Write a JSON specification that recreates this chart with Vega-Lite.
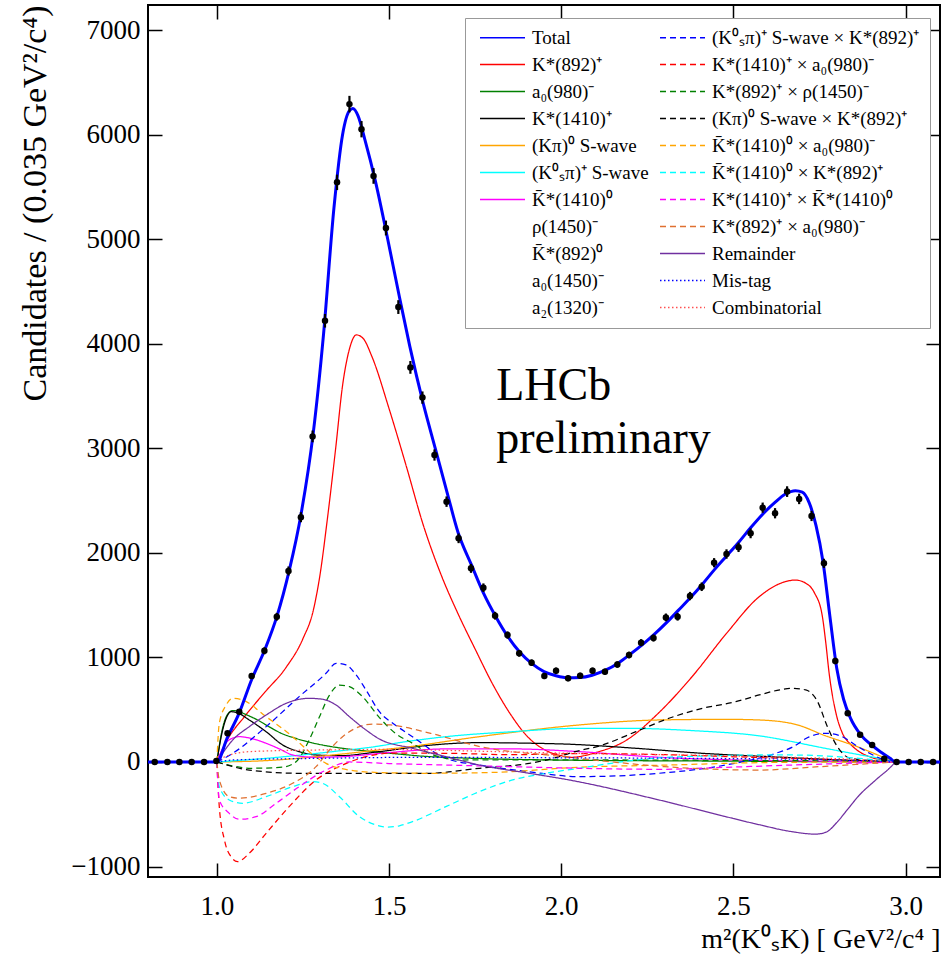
{
  "$schema": "https://vega.github.io/schema/vega-lite/v6.json",
  "width": 792,
  "height": 872,
  "autosize": {"type": "none"},
  "padding": {"left": 148, "top": 5, "right": 8, "bottom": 88},
  "background": "white",
  "config": {
    "view": {"stroke": "black", "strokeWidth": 2},
    "font": "Liberation Serif",
    "axis": {"grid": false, "domain": false, "tickColor": "black", "tickWidth": 1.5, "labelColor": "black", "titleColor": "black", "labelFont": "Liberation Serif", "titleFont": "Liberation Serif", "titleFontWeight": "normal"}
  },
  "datasets": {
    "lines": [
      {"c":"T","x":0.8,"y":0},{"c":"T","x":0.999,"y":0},{"c":"T","x":1.0,"y":0},{"c":"T","x":1.03,"y":230},{"c":"T","x":1.065,"y":470},{"c":"T","x":1.1,"y":780},{"c":"T","x":1.14,"y":1080},{"c":"T","x":1.175,"y":1400},{"c":"T","x":1.21,"y":1830},{"c":"T","x":1.245,"y":2380},{"c":"T","x":1.28,"y":3150},{"c":"T","x":1.31,"y":4100},{"c":"T","x":1.34,"y":5300},{"c":"T","x":1.365,"y":6000},{"c":"T","x":1.385,"y":6230},{"c":"T","x":1.395,"y":6250},{"c":"T","x":1.41,"y":6180},{"c":"T","x":1.43,"y":5950},{"c":"T","x":1.46,"y":5560},{"c":"T","x":1.49,"y":5100},{"c":"T","x":1.53,"y":4450},{"c":"T","x":1.56,"y":3980},{"c":"T","x":1.6,"y":3420},{"c":"T","x":1.635,"y":2990},{"c":"T","x":1.67,"y":2560},{"c":"T","x":1.7,"y":2200},{"c":"T","x":1.74,"y":1880},{"c":"T","x":1.775,"y":1610},{"c":"T","x":1.81,"y":1390},{"c":"T","x":1.845,"y":1200},{"c":"T","x":1.88,"y":1050},{"c":"T","x":1.915,"y":940},{"c":"T","x":1.95,"y":865},{"c":"T","x":1.985,"y":825},{"c":"T","x":2.02,"y":805},{"c":"T","x":2.055,"y":808},{"c":"T","x":2.09,"y":830},{"c":"T","x":2.13,"y":880},{"c":"T","x":2.165,"y":945},{"c":"T","x":2.2,"y":1030},{"c":"T","x":2.235,"y":1120},{"c":"T","x":2.27,"y":1220},{"c":"T","x":2.305,"y":1330},{"c":"T","x":2.34,"y":1450},{"c":"T","x":2.375,"y":1570},{"c":"T","x":2.41,"y":1700},{"c":"T","x":2.445,"y":1840},{"c":"T","x":2.48,"y":1970},{"c":"T","x":2.515,"y":2100},{"c":"T","x":2.55,"y":2240},{"c":"T","x":2.585,"y":2370},{"c":"T","x":2.62,"y":2480},{"c":"T","x":2.65,"y":2560},{"c":"T","x":2.68,"y":2595},{"c":"T","x":2.7,"y":2580},{"c":"T","x":2.72,"y":2480},{"c":"T","x":2.74,"y":2260},{"c":"T","x":2.76,"y":1920},{"c":"T","x":2.78,"y":1400},{"c":"T","x":2.8,"y":900},{"c":"T","x":2.82,"y":600},{"c":"T","x":2.84,"y":420},{"c":"T","x":2.87,"y":260},{"c":"T","x":2.9,"y":165},{"c":"T","x":2.93,"y":90},{"c":"T","x":2.955,"y":35},{"c":"T","x":2.972,"y":0},{"c":"T","x":3.1,"y":0},

      {"c":"A","x":1.0,"y":0},{"c":"A","x":1.03,"y":210},{"c":"A","x":1.08,"y":433},{"c":"A","x":1.14,"y":670},{"c":"A","x":1.2,"y":900},{"c":"A","x":1.25,"y":1180},{"c":"A","x":1.28,"y":1450},{"c":"A","x":1.3,"y":1800},{"c":"A","x":1.32,"y":2300},{"c":"A","x":1.345,"y":3000},{"c":"A","x":1.365,"y":3600},{"c":"A","x":1.385,"y":3950},{"c":"A","x":1.405,"y":4085},{"c":"A","x":1.425,"y":4050},{"c":"A","x":1.45,"y":3880},{"c":"A","x":1.5,"y":3380},{"c":"A","x":1.55,"y":2830},{"c":"A","x":1.6,"y":2260},{"c":"A","x":1.65,"y":1800},{"c":"A","x":1.7,"y":1420},{"c":"A","x":1.75,"y":1080},{"c":"A","x":1.8,"y":750},{"c":"A","x":1.85,"y":470},{"c":"A","x":1.9,"y":250},{"c":"A","x":1.95,"y":120},{"c":"A","x":2.0,"y":60},{"c":"A","x":2.03,"y":45},{"c":"A","x":2.1,"y":90},{"c":"A","x":2.19,"y":210},{"c":"A","x":2.28,"y":460},{"c":"A","x":2.38,"y":816},{"c":"A","x":2.48,"y":1230},{"c":"A","x":2.575,"y":1581},{"c":"A","x":2.65,"y":1724},{"c":"A","x":2.68,"y":1740},{"c":"A","x":2.71,"y":1710},{"c":"A","x":2.735,"y":1620},{"c":"A","x":2.758,"y":1400},{"c":"A","x":2.768,"y":1150},{"c":"A","x":2.778,"y":850},{"c":"A","x":2.797,"y":480},{"c":"A","x":2.816,"y":280},{"c":"A","x":2.84,"y":170},{"c":"A","x":2.865,"y":100},{"c":"A","x":2.9,"y":45},{"c":"A","x":2.94,"y":15},{"c":"A","x":2.97,"y":0},

      {"c":"B","x":1.0,"y":0},{"c":"B","x":1.015,"y":300},{"c":"B","x":1.03,"y":450},{"c":"B","x":1.046,"y":491},{"c":"B","x":1.06,"y":488},{"c":"B","x":1.08,"y":460},{"c":"B","x":1.118,"y":402},{"c":"B","x":1.15,"y":340},{"c":"B","x":1.19,"y":270},{"c":"B","x":1.23,"y":225},{"c":"B","x":1.268,"y":190},{"c":"B","x":1.31,"y":160},{"c":"B","x":1.356,"y":135},{"c":"B","x":1.45,"y":100},{"c":"B","x":1.53,"y":75},{"c":"B","x":1.6,"y":55},{"c":"B","x":1.7,"y":40},{"c":"B","x":1.8,"y":30},{"c":"B","x":2.0,"y":18},{"c":"B","x":2.5,"y":8},{"c":"B","x":2.97,"y":0},

      {"c":"C","x":1.0,"y":0},{"c":"C","x":1.015,"y":280},{"c":"C","x":1.03,"y":440},{"c":"C","x":1.041,"y":481},{"c":"C","x":1.06,"y":470},{"c":"C","x":1.094,"y":402},{"c":"C","x":1.143,"y":290},{"c":"C","x":1.191,"y":163},{"c":"C","x":1.239,"y":99},{"c":"C","x":1.288,"y":67},{"c":"C","x":1.356,"y":60},{"c":"C","x":1.472,"y":99},{"c":"C","x":1.617,"y":160},{"c":"C","x":1.762,"y":185},{"c":"C","x":1.9,"y":180},{"c":"C","x":2.023,"y":170},{"c":"C","x":2.217,"y":131},{"c":"C","x":2.41,"y":83},{"c":"C","x":2.604,"y":51},{"c":"C","x":2.816,"y":19},{"c":"C","x":2.97,"y":0},

      {"c":"D","x":1.0,"y":0},{"c":"D","x":1.143,"y":13},{"c":"D","x":1.336,"y":67},{"c":"D","x":1.472,"y":115},{"c":"D","x":1.53,"y":135},{"c":"D","x":1.762,"y":242},{"c":"D","x":2.052,"y":354},{"c":"D","x":2.284,"y":402},{"c":"D","x":2.478,"y":408},{"c":"D","x":2.575,"y":402},{"c":"D","x":2.68,"y":360},{"c":"D","x":2.768,"y":250},{"c":"D","x":2.865,"y":140},{"c":"D","x":2.943,"y":35},{"c":"D","x":2.97,"y":0},

      {"c":"E","x":1.0,"y":0},{"c":"E","x":1.143,"y":35},{"c":"E","x":1.336,"y":99},{"c":"E","x":1.472,"y":153},{"c":"E","x":1.53,"y":185},{"c":"E","x":1.665,"y":242},{"c":"E","x":1.859,"y":290},{"c":"E","x":2.052,"y":322},{"c":"E","x":2.188,"y":322},{"c":"E","x":2.381,"y":300},{"c":"E","x":2.575,"y":250},{"c":"E","x":2.768,"y":130},{"c":"E","x":2.865,"y":70},{"c":"E","x":2.94,"y":25},{"c":"E","x":2.97,"y":0},

      {"c":"F","x":1.0,"y":0},{"c":"F","x":1.02,"y":150},{"c":"F","x":1.04,"y":220},{"c":"F","x":1.065,"y":242},{"c":"F","x":1.1,"y":225},{"c":"F","x":1.143,"y":179},{"c":"F","x":1.185,"y":120},{"c":"F","x":1.22,"y":67},{"c":"F","x":1.288,"y":45},{"c":"F","x":1.36,"y":50},{"c":"F","x":1.5,"y":90},{"c":"F","x":1.665,"y":125},{"c":"F","x":1.859,"y":125},{"c":"F","x":2.052,"y":99},{"c":"F","x":2.284,"y":45},{"c":"F","x":2.5,"y":20},{"c":"F","x":2.7,"y":10},{"c":"F","x":2.97,"y":0},

      {"c":"R1","x":1.0,"y":0},{"c":"R1","x":1.046,"y":83},{"c":"R1","x":1.143,"y":338},{"c":"R1","x":1.239,"y":625},{"c":"R1","x":1.317,"y":848},{"c":"R1","x":1.346,"y":944},{"c":"R1","x":1.375,"y":928},{"c":"R1","x":1.405,"y":830},{"c":"R1","x":1.433,"y":689},{"c":"R1","x":1.472,"y":481},{"c":"R1","x":1.52,"y":350},{"c":"R1","x":1.568,"y":242},{"c":"R1","x":1.665,"y":35},{"c":"R1","x":1.762,"y":-29},{"c":"R1","x":1.907,"y":-93},{"c":"R1","x":2.052,"y":-140},{"c":"R1","x":2.284,"y":-108},{"c":"R1","x":2.478,"y":-29},{"c":"R1","x":2.623,"y":83},{"c":"R1","x":2.67,"y":140},{"c":"R1","x":2.72,"y":240},{"c":"R1","x":2.768,"y":274},{"c":"R1","x":2.81,"y":250},{"c":"R1","x":2.865,"y":140},{"c":"R1","x":2.94,"y":20},{"c":"R1","x":2.97,"y":0},

      {"c":"R2","x":1.0,"y":0},{"c":"R2","x":1.007,"y":-427},{"c":"R2","x":1.022,"y":-746},{"c":"R2","x":1.041,"y":-906},{"c":"R2","x":1.06,"y":-953},{"c":"R2","x":1.094,"y":-873},{"c":"R2","x":1.143,"y":-682},{"c":"R2","x":1.21,"y":-427},{"c":"R2","x":1.288,"y":-172},{"c":"R2","x":1.365,"y":-29},{"c":"R2","x":1.433,"y":51},{"c":"R2","x":1.51,"y":85},{"c":"R2","x":1.665,"y":83},{"c":"R2","x":1.859,"y":70},{"c":"R2","x":2.052,"y":80},{"c":"R2","x":2.3,"y":70},{"c":"R2","x":2.5,"y":50},{"c":"R2","x":2.7,"y":30},{"c":"R2","x":2.85,"y":15},{"c":"R2","x":2.97,"y":0},

      {"c":"R3","x":1.0,"y":0},{"c":"R3","x":1.05,"y":-40},{"c":"R3","x":1.1,"y":-60},{"c":"R3","x":1.19,"y":-50},{"c":"R3","x":1.23,"y":3},{"c":"R3","x":1.268,"y":210},{"c":"R3","x":1.298,"y":433},{"c":"R3","x":1.327,"y":640},{"c":"R3","x":1.356,"y":736},{"c":"R3","x":1.385,"y":720},{"c":"R3","x":1.423,"y":625},{"c":"R3","x":1.472,"y":425},{"c":"R3","x":1.52,"y":270},{"c":"R3","x":1.568,"y":179},{"c":"R3","x":1.617,"y":83},{"c":"R3","x":1.665,"y":35},{"c":"R3","x":1.713,"y":19},{"c":"R3","x":2.0,"y":20},{"c":"R3","x":2.5,"y":15},{"c":"R3","x":2.8,"y":10},{"c":"R3","x":2.97,"y":0},

      {"c":"R4","x":1.0,"y":0},{"c":"R4","x":1.094,"y":-77},{"c":"R4","x":1.239,"y":-108},{"c":"R4","x":1.433,"y":-108},{"c":"R4","x":1.617,"y":-108},{"c":"R4","x":1.762,"y":-60},{"c":"R4","x":1.907,"y":-13},{"c":"R4","x":1.994,"y":51},{"c":"R4","x":2.023,"y":83},{"c":"R4","x":2.12,"y":163},{"c":"R4","x":2.217,"y":290},{"c":"R4","x":2.313,"y":418},{"c":"R4","x":2.41,"y":513},{"c":"R4","x":2.507,"y":577},{"c":"R4","x":2.575,"y":641},{"c":"R4","x":2.635,"y":690},{"c":"R4","x":2.671,"y":705},{"c":"R4","x":2.71,"y":689},{"c":"R4","x":2.744,"y":580},{"c":"R4","x":2.773,"y":338},{"c":"R4","x":2.802,"y":146},{"c":"R4","x":2.84,"y":35},{"c":"R4","x":2.97,"y":0},

      {"c":"R5","x":1.0,"y":0},{"c":"R5","x":1.007,"y":370},{"c":"R5","x":1.027,"y":545},{"c":"R5","x":1.046,"y":609},{"c":"R5","x":1.075,"y":593},{"c":"R5","x":1.143,"y":433},{"c":"R5","x":1.22,"y":242},{"c":"R5","x":1.268,"y":99},{"c":"R5","x":1.317,"y":-13},{"c":"R5","x":1.385,"y":-77},{"c":"R5","x":1.481,"y":-102},{"c":"R5","x":1.617,"y":-108},{"c":"R5","x":1.8,"y":-100},{"c":"R5","x":2.052,"y":-50},{"c":"R5","x":2.313,"y":-29},{"c":"R5","x":2.604,"y":-5},{"c":"R5","x":2.97,"y":0},

      {"c":"R6","x":1.0,"y":0},{"c":"R6","x":1.007,"y":-236},{"c":"R6","x":1.036,"y":-363},{"c":"R6","x":1.075,"y":-395},{"c":"R6","x":1.143,"y":-332},{"c":"R6","x":1.22,"y":-236},{"c":"R6","x":1.278,"y":-188},{"c":"R6","x":1.307,"y":-204},{"c":"R6","x":1.356,"y":-332},{"c":"R6","x":1.414,"y":-523},{"c":"R6","x":1.462,"y":-602},{"c":"R6","x":1.495,"y":-622},{"c":"R6","x":1.53,"y":-610},{"c":"R6","x":1.568,"y":-571},{"c":"R6","x":1.665,"y":-427},{"c":"R6","x":1.762,"y":-284},{"c":"R6","x":1.859,"y":-172},{"c":"R6","x":1.956,"y":-108},{"c":"R6","x":2.052,"y":-60},{"c":"R6","x":2.15,"y":-10},{"c":"R6","x":2.284,"y":40},{"c":"R6","x":2.45,"y":60},{"c":"R6","x":2.575,"y":67},{"c":"R6","x":2.671,"y":67},{"c":"R6","x":2.865,"y":35},{"c":"R6","x":2.97,"y":0},

      {"c":"R7","x":1.0,"y":0},{"c":"R7","x":1.007,"y":-363},{"c":"R7","x":1.036,"y":-491},{"c":"R7","x":1.065,"y":-548},{"c":"R7","x":1.114,"y":-523},{"c":"R7","x":1.172,"y":-395},{"c":"R7","x":1.239,"y":-236},{"c":"R7","x":1.317,"y":-77},{"c":"R7","x":1.385,"y":0},{"c":"R7","x":1.5,"y":-15},{"c":"R7","x":1.665,"y":-29},{"c":"R7","x":1.859,"y":-45},{"c":"R7","x":2.052,"y":-60},{"c":"R7","x":2.284,"y":-70},{"c":"R7","x":2.478,"y":-51},{"c":"R7","x":2.671,"y":-29},{"c":"R7","x":2.97,"y":0},

      {"c":"R8","x":1.0,"y":0},{"c":"R8","x":1.007,"y":-172},{"c":"R8","x":1.036,"y":-332},{"c":"R8","x":1.065,"y":-347},{"c":"R8","x":1.143,"y":-300},{"c":"R8","x":1.22,"y":-204},{"c":"R8","x":1.288,"y":-45},{"c":"R8","x":1.327,"y":115},{"c":"R8","x":1.365,"y":242},{"c":"R8","x":1.414,"y":338},{"c":"R8","x":1.456,"y":363},{"c":"R8","x":1.505,"y":354},{"c":"R8","x":1.621,"y":274},{"c":"R8","x":1.766,"y":146},{"c":"R8","x":2.008,"y":51},{"c":"R8","x":2.15,"y":0},{"c":"R8","x":2.3,"y":-45},{"c":"R8","x":2.575,"y":-77},{"c":"R8","x":2.749,"y":-45},{"c":"R8","x":2.97,"y":0},

      {"c":"RM","x":1.0,"y":0},{"c":"RM","x":1.046,"y":210},{"c":"RM","x":1.094,"y":338},{"c":"RM","x":1.143,"y":449},{"c":"RM","x":1.201,"y":561},{"c":"RM","x":1.268,"y":609},{"c":"RM","x":1.307,"y":600},{"c":"RM","x":1.346,"y":545},{"c":"RM","x":1.385,"y":433},{"c":"RM","x":1.433,"y":306},{"c":"RM","x":1.472,"y":220},{"c":"RM","x":1.568,"y":131},{"c":"RM","x":1.665,"y":51},{"c":"RM","x":1.762,"y":-29},{"c":"RM","x":1.907,"y":-108},{"c":"RM","x":2.023,"y":-172},{"c":"RM","x":2.284,"y":-363},{"c":"RM","x":2.478,"y":-523},{"c":"RM","x":2.575,"y":-600},{"c":"RM","x":2.671,"y":-667},{"c":"RM","x":2.739,"y":-690},{"c":"RM","x":2.77,"y":-670},{"c":"RM","x":2.8,"y":-580},{"c":"RM","x":2.83,"y":-460},{"c":"RM","x":2.865,"y":-320},{"c":"RM","x":2.914,"y":-170},{"c":"RM","x":2.962,"y":-30},{"c":"RM","x":2.97,"y":0},

      {"c":"MT","x":1.0,"y":0},{"c":"MT","x":1.05,"y":20},{"c":"MT","x":1.3,"y":35},{"c":"MT","x":1.6,"y":45},{"c":"MT","x":2.0,"y":40},{"c":"MT","x":2.4,"y":35},{"c":"MT","x":2.7,"y":25},{"c":"MT","x":2.9,"y":10},{"c":"MT","x":2.97,"y":0},

      {"c":"CB","x":1.0,"y":0},{"c":"CB","x":1.03,"y":60},{"c":"CB","x":1.1,"y":100},{"c":"CB","x":1.3,"y":115},{"c":"CB","x":1.5,"y":120},{"c":"CB","x":1.8,"y":100},{"c":"CB","x":2.0,"y":85},{"c":"CB","x":2.3,"y":70},{"c":"CB","x":2.6,"y":50},{"c":"CB","x":2.85,"y":25},{"c":"CB","x":2.97,"y":0}
    ],
    "pts": [
      {"x":0.8195,"y":0,"e":0},{"x":0.8563,"y":0,"e":0},{"x":0.8911,"y":0,"e":0},{"x":0.9268,"y":0,"e":0},{"x":0.9628,"y":0,"e":0},{"x":0.9985,"y":10,"e":3},
      {"x":1.031,"y":274,"e":17},{"x":1.065,"y":481,"e":22},{"x":1.101,"y":822,"e":29},{"x":1.138,"y":1063,"e":33},{"x":1.174,"y":1389,"e":37},{"x":1.208,"y":1827,"e":43},{"x":1.244,"y":2341,"e":48},{"x":1.278,"y":3114,"e":56},{"x":1.314,"y":4220,"e":65},{"x":1.349,"y":5544,"e":74},{"x":1.385,"y":6292,"e":79},{"x":1.42,"y":6052,"e":78},{"x":1.455,"y":5605,"e":75},{"x":1.491,"y":5107,"e":71},{"x":1.527,"y":4351,"e":66},{"x":1.562,"y":3774,"e":61},{"x":1.597,"y":3485,"e":59},{"x":1.632,"y":2936,"e":54},{"x":1.667,"y":2490,"e":50},{"x":1.702,"y":2139,"e":46},{"x":1.738,"y":1852,"e":43},{"x":1.774,"y":1667,"e":41},{"x":1.808,"y":1399,"e":37},{"x":1.844,"y":1214,"e":35},{"x":1.878,"y":1039,"e":32},{"x":1.914,"y":950,"e":31},{"x":1.951,"y":822,"e":29},{"x":1.985,"y":873,"e":30},{"x":2.02,"y":800,"e":28},{"x":2.055,"y":825,"e":29},{"x":2.091,"y":873,"e":30},{"x":2.127,"y":864,"e":29},{"x":2.163,"y":932,"e":31},{"x":2.197,"y":1023,"e":32},{"x":2.232,"y":1141,"e":34},{"x":2.268,"y":1186,"e":34},{"x":2.304,"y":1383,"e":37},{"x":2.338,"y":1389,"e":37},{"x":2.374,"y":1587,"e":40},{"x":2.408,"y":1676,"e":41},{"x":2.444,"y":1906,"e":44},{"x":2.48,"y":1989,"e":45},{"x":2.515,"y":2053,"e":45},{"x":2.55,"y":2187,"e":47},{"x":2.585,"y":2432,"e":49},{"x":2.621,"y":2379,"e":49},{"x":2.656,"y":2586,"e":51},{"x":2.691,"y":2516,"e":50},{"x":2.727,"y":2353,"e":49},{"x":2.763,"y":1900,"e":44},{"x":2.796,"y":966,"e":31},{"x":2.832,"y":466,"e":22},{"x":2.868,"y":261,"e":16},{"x":2.903,"y":163,"e":13},{"x":2.938,"y":30,"e":5},{"x":2.974,"y":0,"e":0},{"x":3.009,"y":0,"e":0},{"x":3.044,"y":0,"e":0},{"x":3.08,"y":0,"e":0}
    ]
  },
  "resolve": {"axis": {"x": "independent", "y": "independent"}},
  "layer": [
    {
      "data": {"name": "lines"},
      "transform": [{"filter": "datum.c !== 'T'"}],
      "mark": {"type": "line", "interpolate": "monotone", "clip": true, "strokeWidth": 1.25},
      "encoding": {
        "x": {"field": "x", "type": "quantitative", "scale": {"domain": [0.8, 3.1], "nice": false, "zero": false},
          "axis": {"orient": "bottom", "values": [1, 1.5, 2, 2.5, 3], "format": ".1f", "tickSize": -14, "labelPadding": 30, "labelFontSize": 27, "labelFlush": false, "title": "m²(K⁰ₛK) [ GeV²/c⁴ ]", "titleFontSize": 28, "titleAnchor": "end", "titlePadding": 6}},
        "y": {"field": "y", "type": "quantitative", "scale": {"domain": [-1100, 7240], "nice": false, "zero": false},
          "axis": {"orient": "left", "values": [-1000, 0, 1000, 2000, 3000, 4000, 5000, 6000, 7000], "format": "d", "tickSize": -14, "labelPadding": 22, "labelFontSize": 27, "labelFlush": false, "title": "Candidates / (0.035 GeV²/c⁴)", "titleFontSize": 34, "titleAnchor": "end", "titlePadding": 18}},
        "color": {"field": "c", "type": "nominal",
          "scale": {"domain": ["T","A","B","C","D","E","F","P","G","H","I","R1","R2","R3","R4","R5","R6","R7","R8","RM","MT","CB"],
                    "range": ["#0000ff","#ff0000","#008000","#000000","#ffa500","#00ffff","#ff00ff","transparent","transparent","transparent","transparent","#0000ff","#ff0000","#008000","#000000","#ffa500","#00ffff","#ff00ff","#e07030","#7030a0","#0000ff","#ff5050"]},
          "legend": {"title": null, "orient": "none", "legendX": 317, "legendY": 13, "columns": 2, "columnPadding": 6, "rowPadding": 7, "padding": 10, "strokeColor": "#999999", "fillColor": "white", "labelFont": "Liberation Serif", "labelFontSize": 19, "labelColor": "black", "labelLimit": 400, "symbolType": "M-1,0H9", "symbolSize": 81, "symbolStrokeWidth": 1.6, "labelOffset": 38,
            "labelExpr": "['Total','K*(892)⁺','a₀(980)⁻','K*(1410)⁺','(Kπ)⁰ S-wave','(K⁰ₛπ)⁺ S-wave','K̄*(1410)⁰','ρ(1450)⁻','K̄*(892)⁰','a₀(1450)⁻','a₂(1320)⁻','(K⁰ₛπ)⁺ S-wave × K*(892)⁺','K*(1410)⁺ × a₀(980)⁻','K*(892)⁺ × ρ(1450)⁻','(Kπ)⁰ S-wave × K*(892)⁺','K̄*(1410)⁰ × a₀(980)⁻','K̄*(1410)⁰ × K*(892)⁺','K*(1410)⁺ × K̄*(1410)⁰','K*(892)⁺ × a₀(980)⁻','Remainder','Mis-tag','Combinatorial'][indexof(['T','A','B','C','D','E','F','P','G','H','I','R1','R2','R3','R4','R5','R6','R7','R8','RM','MT','CB'], datum.value)]"}},
        "strokeDash": {"field": "c", "type": "nominal",
          "scale": {"domain": ["T","A","B","C","D","E","F","P","G","H","I","R1","R2","R3","R4","R5","R6","R7","R8","RM","MT","CB"],
                    "range": [[1,0],[1,0],[1,0],[1,0],[1,0],[1,0],[1,0],[1,0],[1,0],[1,0],[1,0],[6,4],[6,4],[6,4],[6,4],[6,4],[6,4],[6,4],[6,4],[1,0],[1.5,2.5],[1.5,2.5]]}}
      }
    },
    {
      "data": {"name": "lines"},
      "transform": [{"filter": "datum.c === 'T'"}],
      "mark": {"type": "line", "interpolate": "monotone", "clip": true, "strokeWidth": 3, "color": "#0000ff"},
      "encoding": {
        "x": {"field": "x", "type": "quantitative", "scale": {"domain": [0.8, 3.1], "nice": false, "zero": false},
          "axis": {"orient": "top", "values": [1, 1.5, 2, 2.5, 3], "tickSize": -14, "labels": false, "title": null}},
        "y": {"field": "y", "type": "quantitative", "scale": {"domain": [-1100, 7240], "nice": false, "zero": false},
          "axis": {"orient": "right", "values": [-1000, 0, 1000, 2000, 3000, 4000, 5000, 6000, 7000], "tickSize": -14, "labels": false, "title": null}}
      }
    },
    {
      "data": {"name": "pts"},
      "mark": {"type": "errorbar", "ticks": false, "color": "black", "rule": {"strokeWidth": 2.2}},
      "encoding": {
        "x": {"field": "x", "type": "quantitative", "axis": null},
        "y": {"field": "y", "type": "quantitative", "axis": null},
        "yError": {"field": "e"}
      }
    },
    {
      "data": {"name": "pts"},
      "mark": {"type": "circle", "size": 42, "color": "black", "opacity": 1},
      "encoding": {
        "x": {"field": "x", "type": "quantitative", "axis": null},
        "y": {"field": "y", "type": "quantitative", "axis": null}
      }
    },
    {
      "data": {"values": [{}]},
      "mark": {"type": "text", "align": "left", "baseline": "alphabetic", "font": "Liberation Serif", "fontSize": 46, "lineHeight": 53, "color": "black"},
      "encoding": {
        "x": {"datum": 1.811, "type": "quantitative", "axis": null},
        "y": {"datum": 3462, "type": "quantitative", "axis": null},
        "text": {"value": ["LHCb", "preliminary"]}
      }
    }
  ]
}
